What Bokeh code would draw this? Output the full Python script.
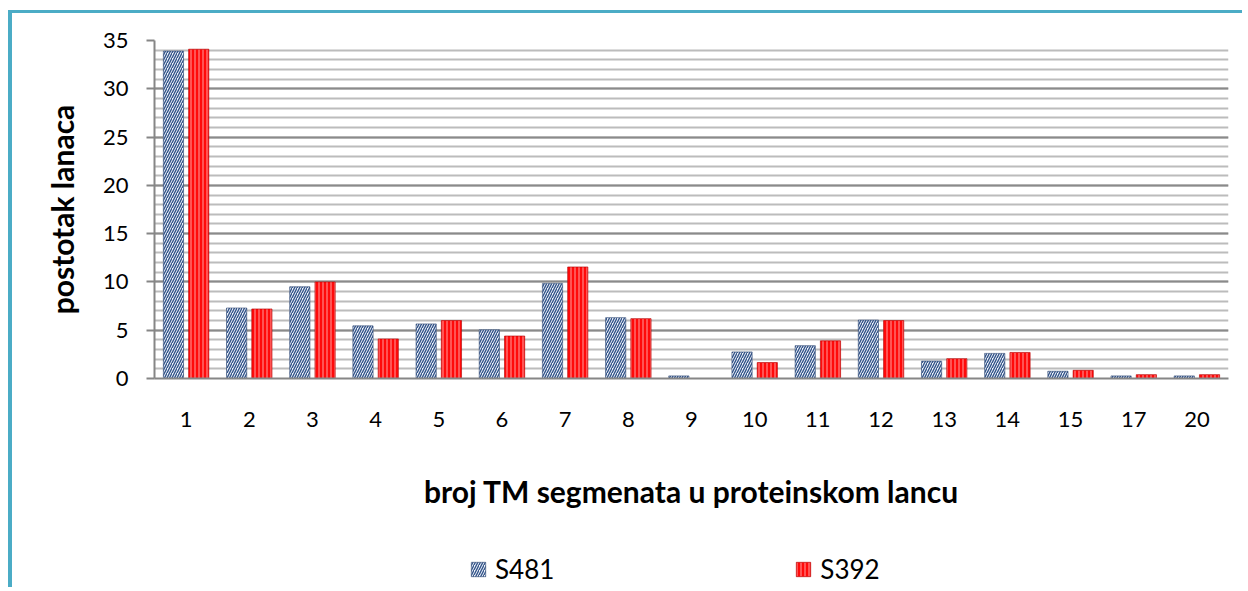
from bokeh.plotting import figure
from bokeh.layouts import column
from bokeh.models import ColumnDataSource, FactorRange, Range1d, Legend, LegendItem, SingleIntervalTicker
from bokeh.transform import dodge
from bokeh.embed import file_html
from bokeh.resources import INLINE

categories = ["1", "2", "3", "4", "5", "6", "7", "8", "9", "10", "11", "12", "13", "14", "15", "17", "20"]
s481 = [33.9, 7.3, 9.5, 5.45, 5.65, 5.05, 9.85, 6.3, 0.27, 2.75, 3.4, 6.05, 1.8, 2.6, 0.75, 0.27, 0.27]
s392 = [34.1, 7.2, 10.0, 4.1, 6.0, 4.4, 11.55, 6.2, 0.0, 1.65, 3.9, 6.0, 2.05, 2.7, 0.85, 0.4, 0.4]
series_names = ["S481", "S392"]
x_title = "broj TM segmenata u proteinskom lancu"
y_title = "postotak lanaca"

FONT = "Lato"
W = 1234

S481_STYLE = dict(fill_color="#eef3fa", line_color="#2b4470", line_width=0.6,
                  hatch_pattern="/", hatch_color="#34558a", hatch_scale=5, hatch_weight=1.4)
S392_STYLE = dict(fill_color="#ff0a0a", line_color="#b00000", line_width=0.6,
                  hatch_pattern="|", hatch_color="#ff9090", hatch_scale=4, hatch_weight=1.1)

source = ColumnDataSource(dict(cat=categories, s481=s481, s392=s392))

p = figure(
    x_range=FactorRange(*categories, range_padding=0),
    y_range=Range1d(0, 35),
    width=W, height=535,
    output_backend="svg", toolbar_location=None,
    min_border_left=142, min_border_right=18, min_border_top=27, min_border_bottom=170,
)
p.outline_line_color = None
p.background_fill_color = "white"
p.border_fill_color = "white"

p.vbar(x=dodge("cat", -0.2, range=p.x_range), top="s481", width=0.32, source=source, **S481_STYLE)
p.vbar(x=dodge("cat", 0.2, range=p.x_range), top="s392", width=0.32, source=source, **S392_STYLE)

# grid
p.xgrid.grid_line_color = None
ticker = SingleIntervalTicker(interval=5, num_minor_ticks=5)
p.yaxis.ticker = ticker
p.ygrid.ticker = ticker
p.ygrid.grid_line_color = "#8a8a8a"
p.ygrid.grid_line_width = 2
p.ygrid.minor_grid_line_color = "#bcbcbc"
p.ygrid.minor_grid_line_width = 2

# axes
for ax in (p.xaxis, p.yaxis):
    ax.axis_line_color = "#868686"
    ax.axis_line_width = 2
    ax.major_label_text_font = FONT
    ax.major_label_text_font_size = "22px"
    ax.major_label_text_color = "#000000"
    ax.axis_label_text_font = FONT
    ax.axis_label_text_font_style = "bold"
    ax.axis_label_text_font_size = "30px"
    ax.axis_label_text_color = "#000000"
    ax.minor_tick_in = 0
    ax.minor_tick_out = 0

p.yaxis.major_tick_out = 8
p.yaxis.major_tick_in = 0
p.yaxis.major_tick_line_color = "#868686"
p.yaxis.major_tick_line_width = 2
p.yaxis.major_label_standoff = 18
p.yaxis.axis_label = y_title
p.yaxis.axis_label_standoff = 20

p.xaxis.major_tick_out = 0
p.xaxis.major_tick_in = 0
p.xaxis.major_tick_line_color = None
p.xaxis.major_label_standoff = 33
p.xaxis.axis_label = x_title
p.xaxis.axis_label_standoff = 43

# legend strip (separate canvas so the legend is not clipped by the plot frame)
lg = figure(width=W, height=42, x_range=Range1d(0, 1), y_range=Range1d(0, 1),
            output_backend="svg", toolbar_location=None,
            x_axis_location=None, y_axis_location=None,
            min_border_left=0, min_border_right=0, min_border_top=0, min_border_bottom=0)
lg.grid.grid_line_color = None
lg.outline_line_color = None
lg.background_fill_color = "white"
lg.border_fill_color = "white"
# swatch renderers kept far outside the visible range; only their legend entries show
d1 = lg.vbar(x=[-50], top=[-50], bottom=[-51], width=0.1, **S481_STYLE)
d2 = lg.vbar(x=[-50], top=[-50], bottom=[-51], width=0.1, **S392_STYLE)

legend = Legend(
    items=[LegendItem(label=series_names[0], renderers=[d1]),
           LegendItem(label=series_names[1], renderers=[d2])],
    orientation="horizontal", location=(315, 5),
    glyph_width=18, glyph_height=18, label_standoff=8, spacing=240,
    padding=0, margin=0, border_line_color=None, background_fill_alpha=0,
    label_text_font=FONT, label_text_font_size="26px", label_text_color="#000000",
)
lg.add_layout(legend, "center")

layout = column(p, lg, spacing=0)
layout.styles = {"margin-left": "12px", "margin-top": "13px", "box-shadow": "-4px -3px 0 0 #4BACC6"}

open("out.html", "w").write(file_html(layout, INLINE))
